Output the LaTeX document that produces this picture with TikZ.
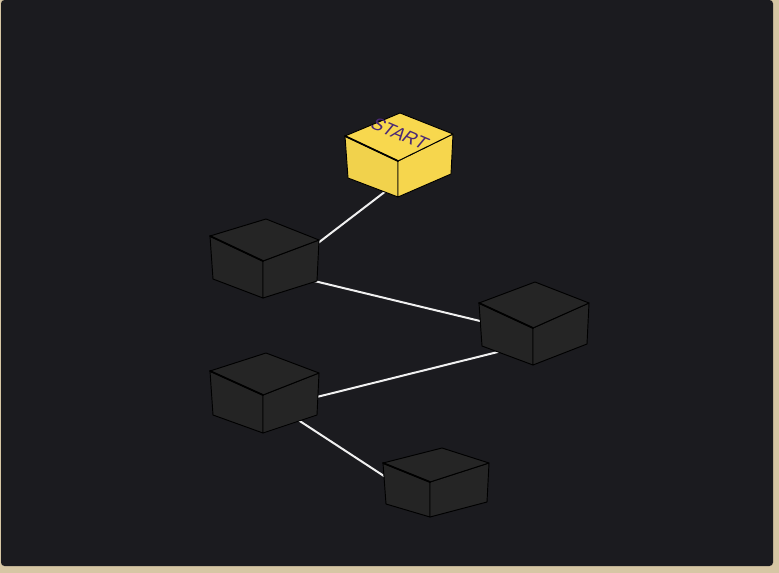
\documentclass[tikz,border=0pt]{standalone}
\usepackage{fontspec}
\setsansfont{Liberation Sans}
\usepackage{xcolor}
\usetikzlibrary{calc}
\definecolor{night}{HTML}{1B1B1F}
\definecolor{sand}{HTML}{D6C6A4}
\definecolor{coal}{HTML}{252525}
\definecolor{sun}{HTML}{F8D84E}
\definecolor{plum}{HTML}{4A2876}
\pgfdeclarelayer{background}
\pgfsetlayers{background,main}
\newcommand{\crate}[9] {
    \coordinate (#1-f)  at (#2, #3);
    \coordinate (#1-l)  at ($(#1-f)+(#4,#5)$);
    \coordinate (#1-r)  at ($(#1-f)+(#6,#7)$);
    \coordinate (#1-b)  at ($(#1-l)+(#6,#7+4)$);
    \coordinate (#1-lb) at ($(#1-l)+(3,#8+6)$);
    \coordinate (#1-fb) at ($(#1-f)+(0,#8)$);
    \coordinate (#1-rb) at ($(#1-r)+(-2,#8+4)$);
    \coordinate (#1)    at ($(#1-l)!0.5!(#1-r)+(0,20)$);
    \filldraw[face,fill=#9!97!black] (#1-l) -- (#1-f) -- (#1-fb) -- (#1-lb) -- cycle;
    \filldraw[face,fill=#9!99!black] (#1-f) -- (#1-r) -- (#1-rb) -- (#1-fb) -- cycle;
    \filldraw[face,fill=#9] (#1-l) -- (#1-b) -- (#1-r) -- (#1-f) -- cycle;
    \draw[edge] (#1-l) -- (#1-f);
}

\begin{document}
\begin{tikzpicture}[
        x=0.3mm, y=-0.3mm,
        face/.style={draw=black,line width=0.8pt,line join=round},
        edge/.style={draw=black,line width=1.5pt,line cap=round},
        link/.style={draw=white!94!black,line width=1.7pt}
    ]
    \useasboundingbox (0,0) rectangle (779,573);
    % crates
    \crate{start} {398}{161}{-53}{-25}{55}{-27}{36}{sun}
    \crate{crateA}{263}{261}{-53}{-25}{56}{-21}{37}{coal}
    \crate{crateB}{533}{328}{-54}{-25}{56}{-25}{37}{coal}
    \crate{crateC}{263}{395}{-53}{-24}{56}{-22}{38}{coal}
    \crate{crateD}{430}{482}{-47}{-19}{59}{-19}{35}{coal}
    \node[text=plum,font=\sffamily\fontsize{15.5}{15.5}\selectfont,rotate=-23,xslant=0.3,inner sep=0] (label) at (400,134) {START};
    % backdrop and links
    \begin{pgfonlayer}{background}
        \fill[sand] (0,0) rectangle (779,573);
        \fill[night,rounded corners=3pt] (1,0) rectangle (773,566);
        \draw[link] ($(start)+(0,26)$)  -- ($(crateA)+(0,26)$);
        \draw[link] ($(crateA)+(0,11)$) -- ($(crateB)+(0,11)$);
        \draw[link] ($(crateB)+(0,20)$) -- ($(crateC)+(0,18)$);
        \draw[link] ($(crateC)+(0,6)$)  -- ($(crateD)+(0,27)$);
    \end{pgfonlayer}
\end{tikzpicture}
\end{document}
